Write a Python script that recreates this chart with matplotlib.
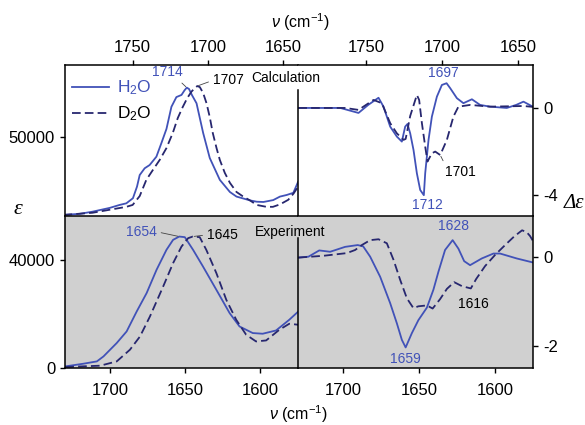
import matplotlib
matplotlib.use("Agg")
import matplotlib.pyplot as plt

plt.rcParams["font.family"] = ["Liberation Sans", "DejaVu Sans"]
plt.rcParams["mathtext.fontset"] = "custom"
plt.rcParams["mathtext.rm"] = "Liberation Sans"
plt.rcParams["mathtext.it"] = "Liberation Sans:italic"

# ---- Calculated absorption, ε (wavenumber in cm-1) ----
calc_nu_h2o = [1796, 1785.3, 1776.7, 1765.3, 1758.7, 1754.2, 1749.8, 1747.1, 1745.3, 1742,
               1738.7, 1734.2, 1730.9, 1727.5, 1724.2, 1720.9, 1717.5, 1715.5, 1714, 1712.5,
               1710.5, 1707.5, 1703.1, 1698.7, 1692, 1685.3, 1680.9, 1672, 1667.5, 1663,
               1656.5, 1652, 1647.5, 1643.1, 1640]
calc_eps_h2o = [21100, 21500, 22300, 23700, 24800, 25400, 27300, 31600, 35900, 38400,
                39600, 42700, 47700, 53000, 61200, 64800, 65600, 67300, 68300, 67800,
                65500, 62500, 51500, 42200, 34100, 29600, 27900, 26500, 26000, 25900,
                26600, 27900, 28500, 29300, 33300]

calc_nu_d2o = [1796, 1776.7, 1754.2, 1750, 1745.3, 1740.9, 1736.5, 1732, 1727.5, 1723.3,
               1720, 1716.7, 1713.7, 1710.9, 1708.7, 1707, 1705.3, 1703.1, 1700.9, 1698.7,
               1696.7, 1694.2, 1692, 1688.7, 1685.3, 1680.9, 1676.7, 1672, 1667.5, 1661,
               1656.7, 1652, 1646.5, 1643, 1640]
calc_eps_d2o = [21100, 21900, 24100, 24800, 28100, 34100, 37800, 41500, 45900, 51500,
                57000, 61100, 64400, 66800, 68100, 68900, 68500, 66300, 62600, 57400,
                51500, 45900, 41500, 36700, 33000, 29600, 28000, 26500, 24800, 24100,
                24100, 25000, 26700, 29000, 31500]

# ---- Calculated circular dichroism, Δε ----
calc_cd_nu_h2o = [1794.8, 1767.1, 1755.1, 1748.7, 1741.9, 1738.6, 1734.2, 1729.8, 1726.5, 1724.3,
                  1722.8, 1721, 1718.8, 1716.6, 1714.4, 1712, 1711.1, 1708.9, 1706.7, 1703.4,
                  1700.1, 1697, 1694.6, 1690.2, 1685.9, 1680.3, 1674.9, 1668.3, 1657.3, 1651.1,
                  1646.3, 1640.1]
calc_cd_h2o = [0, 0, -0.23, 0.14, 0.47, 0.06, -0.86, -1.32, -1.55, -0.86,
               -0.74, -1.17, -1.94, -3.01, -3.78, -4.02, -3.01, -1.47, -0.4, 0.52,
               1.06, 1.14, 0.91, 0.45, 0.22, 0.4, 0.14, 0.06, 0, 0.14,
               0.29, 0.06]

calc_cd_nu_d2o = [1794.8, 1763.8, 1755.1, 1745.2, 1739.7, 1734.2, 1729.8, 1725.4, 1724, 1721,
                  1716.6, 1715.1, 1713.3, 1711.1, 1709.6, 1706.7, 1704.5, 1701.2, 1696.8, 1692.5,
                  1689.2, 1681.4, 1668.3, 1646.3, 1640.1]
calc_cd_d2o = [0, 0, -0.09, 0.37, 0.22, -0.7, -1.17, -1.47, -1.43, -0.37,
               0.6, 0.37, -0.69, -1.78, -2.47, -2.09, -2.01, -2.17, -1.47, -0.4,
               0.06, 0.14, 0.06, 0.09, 0.05]

# ---- Experimental absorption, ε ----
exp_nu_h2o = [1729.8, 1717.7, 1708.8, 1704.4, 1700, 1695.6, 1689, 1682.3, 1675.7, 1669.1,
              1662.5, 1658.1, 1654, 1650.3, 1644.8, 1638.2, 1629.3, 1620.5, 1613.9, 1605.1,
              1598.5, 1589.6, 1580.8, 1574.8]
exp_eps_h2o = [590, 1590, 2440, 4280, 6760, 9230, 13520, 20900, 27700, 36300,
               43690, 47380, 48600, 48380, 43690, 37520, 28910, 20310, 15360, 12920,
               12670, 13880, 17840, 20900]

exp_nu_d2o = [1729.8, 1706.6, 1695.6, 1686.8, 1680.1, 1673.5, 1664.7, 1658.1, 1652.5, 1648.1,
              1645, 1640.4, 1636, 1629.3, 1622.7, 1616.1, 1609.5, 1602.9, 1596.2, 1587.4,
              1580.8, 1574.8]
exp_eps_d2o = [370, 850, 2440, 6760, 11670, 19050, 30130, 38770, 44900, 48000,
               48600, 48380, 43690, 35080, 25220, 17840, 12300, 9820, 10190, 14140,
               16360, 15990]

# ---- Experimental circular dichroism, Δε ----
exp_cd_nu_h2o = [1729.7, 1723.1, 1716, 1708.8, 1698.9, 1690.6, 1687, 1682.4, 1675.8, 1669.2,
                 1664.8, 1661.5, 1659, 1654.9, 1650.6, 1645, 1640.7, 1637.4, 1633, 1628,
                 1624.2, 1620.4, 1616.5, 1608.8, 1601.1, 1596.7, 1585.7, 1575]
exp_cd_h2o = [-0.02, 0.0, 0.14, 0.11, 0.22, 0.26, 0.23, 0, -0.45, -1.04,
              -1.49, -1.86, -2.03, -1.71, -1.42, -1.14, -0.74, -0.34, 0.15, 0.37,
              0.18, -0.1, -0.19, -0.04, 0.07, 0.07, -0.04, -0.13]

exp_cd_nu_d2o = [1729.7, 1713.2, 1697.8, 1692.3, 1687.9, 1682.4, 1676.9, 1671.4, 1667, 1662.6,
                 1658.2, 1653.9, 1650.6, 1645, 1641.2, 1636.3, 1631.8, 1627, 1621.8, 1616,
                 1612.5, 1606.6, 1600, 1593.4, 1587.5, 1582.2, 1579.2, 1576.9, 1575]
exp_cd_d2o = [-0.02, 0.02, 0.08, 0.15, 0.26, 0.37, 0.39, 0.3, -0.07, -0.52,
              -0.93, -1.15, -1.11, -1.09, -1.16, -0.95, -0.72, -0.57, -0.66, -0.71,
              -0.5, -0.21, 0.04, 0.26, 0.45, 0.59, 0.55, 0.46, 0.35]

calc_ticks = [1750, 1700, 1650]
exp_ticks = [1700, 1650, 1600]

BLUE = "#4152b8"
NAVY = "#27276f"
GRAY = "#d0d0d0"
LW = 1.3
DASH = (0, (4.8, 2.3))

W, H = 585, 425
fig = plt.figure(figsize=(W / 100, H / 100), dpi=100)


def box(x0, y0, x1, y1):
    return [x0 / W, 1 - y1 / H, (x1 - x0) / W, (y1 - y0) / H]


ax_tl = fig.add_axes(box(65, 65, 298, 216))
ax_tr = fig.add_axes(box(298, 65, 533, 216))
ax_bl = fig.add_axes(box(65, 216, 298, 368))
ax_br = fig.add_axes(box(298, 216, 533, 368))

for ax in (ax_tl, ax_tr, ax_bl, ax_br):
    for s in ax.spines.values():
        s.set_linewidth(1.1)
    ax.tick_params(direction="out", length=3.6, width=1.0, labelsize=12, pad=3.5)

for ax in (ax_bl, ax_br):
    ax.set_facecolor(GRAY)

# Absorption panels
ax_tl.plot(calc_nu_h2o, calc_eps_h2o, color=BLUE, lw=LW, label="H$_2$O")
ax_tl.plot(calc_nu_d2o, calc_eps_d2o, color=NAVY, lw=LW, ls=DASH, label="D$_2$O")
ax_bl.plot(exp_nu_h2o, exp_eps_h2o, color=BLUE, lw=LW)
ax_bl.plot(exp_nu_d2o, exp_eps_d2o, color=NAVY, lw=LW, ls=DASH)

# CD panels
ax_tr.plot(calc_cd_nu_h2o, calc_cd_h2o, color=BLUE, lw=LW)
ax_tr.plot(calc_cd_nu_d2o, calc_cd_d2o, color=NAVY, lw=LW, ls=DASH)
ax_br.plot(exp_cd_nu_h2o, exp_cd_h2o, color=BLUE, lw=LW)
ax_br.plot(exp_cd_nu_d2o, exp_cd_d2o, color=NAVY, lw=LW, ls=DASH)

# limits
for ax in (ax_tl, ax_tr):
    ax.set_xlim(1795, 1640)
    ax.set_xticks(calc_ticks)
    ax.xaxis.tick_top()
for ax in (ax_bl, ax_br):
    ax.set_xlim(1730, 1575)
    ax.set_xticks(exp_ticks)
    ax.tick_params(axis="x", pad=7)

ax_tl.set_ylim(20700, 76700)
ax_tl.set_yticks([50000])
ax_bl.set_ylim(0, 56200)
ax_bl.set_yticks([0, 40000])

ax_tr.set_ylim(-4.98, 1.98)
ax_tr.set_yticks([0, -4])
ax_br.set_ylim(-2.49, 0.91)
ax_br.set_yticks([0, -2])
for ax in (ax_tr, ax_br):
    ax.yaxis.tick_right()
    ax.set_yticklabels([f"{int(t)}" for t in ax.get_yticks()])
    ax.tick_params(axis="y", pad=4)

# internal dividers: the left panels' right spine is hidden and the right
# panels' left spine stops below the panel titles
ax_tl.spines["right"].set_visible(False)
ax_bl.spines["right"].set_visible(False)
ax_tr.spines["left"].set_bounds(-4.98, 0.83)
ax_br.spines["left"].set_bounds(-2.49, 0.42)
ax_tr.spines["bottom"].set_visible(False)
ax_tl.spines["bottom"].set_visible(False)

# Legend
leg = ax_tl.legend(loc="upper left", bbox_to_anchor=(0.03, 0.91), frameon=False,
                   fontsize=12.5, handlelength=2.15, handletextpad=0.45,
                   labelspacing=0.42, borderpad=0, borderaxespad=0)
leg.get_texts()[0].set_color(BLUE)

ann = dict(fontsize=10, textcoords="offset points")
lead = dict(arrowstyle="-", color="#444444", lw=0.6, shrinkA=1, shrinkB=1)

ax_tl.annotate("1714", xy=(1714, 68300), xytext=(-3, 6), ha="right", va="bottom",
               color=BLUE, arrowprops=dict(lead, relpos=(0.85, 0)), **ann)
ax_tl.annotate("1707", xy=(1707, 68900), xytext=(11, 4), ha="left", va="center",
               color="black", arrowprops=dict(lead, relpos=(0, 0.5)), **ann)

ax_tr.annotate("1697", xy=(1697, 1.14), xytext=(-2, 2.5), ha="center", va="bottom",
               color=BLUE, **ann)
ax_tr.annotate("1712", xy=(1712, -4.02), xytext=(2.3, -2.2), ha="center", va="top",
               color=BLUE, **ann)
ax_tr.annotate("1701", xy=(1701.2, -2.17), xytext=(3.5, -7), ha="left", va="top",
               color="black", arrowprops=dict(lead, relpos=(0, 1)), **ann)

ax_bl.annotate("1654", xy=(1654, 48600), xytext=(-16, 3.4), ha="right", va="center",
               color=BLUE, arrowprops=dict(lead, relpos=(1, 0.5)), **ann)
ax_bl.annotate("1645", xy=(1645, 48600), xytext=(10, 1.2), ha="left", va="center",
               color="black", arrowprops=dict(lead, relpos=(0, 0.5)), **ann)

ax_br.annotate("1628", xy=(1628, 0.37), xytext=(0.5, 5.5), ha="center", va="bottom",
               color=BLUE, **ann)
ax_br.annotate("1659", xy=(1659, -2.03), xytext=(0, -3.2), ha="center", va="top",
               color=BLUE, **ann)
ax_br.annotate("1616", xy=(1616, -0.71), xytext=(1.5, -6.5), ha="center", va="top",
               color="black", **ann)

# panel titles
fig.text(286 / W, 1 - 78 / H, "Calculation", fontsize=10, ha="center", va="center")
fig.text(290 / W, 1 - 232 / H, "Experiment", fontsize=10, ha="center", va="center")

# axis titles
xlabel = r"$\nu$ (cm$^{\mathregular{-1}}$)"
fig.text(300 / W, 1 - 22 / H, xlabel, fontsize=11.5, ha="center", va="center")
fig.text(298 / W, 1 - 414 / H, xlabel, fontsize=11.5, ha="center", va="center")
fig.text(18 / W, 1 - 210 / H, "ε", fontsize=16, family="Liberation Serif",
         style="italic", ha="center", va="center")
fig.text(574 / W, 1 - 203 / H, "Δε", fontsize=15, family="Liberation Serif",
         style="italic", ha="center", va="center")

fig.savefig("out.png", dpi=100)
